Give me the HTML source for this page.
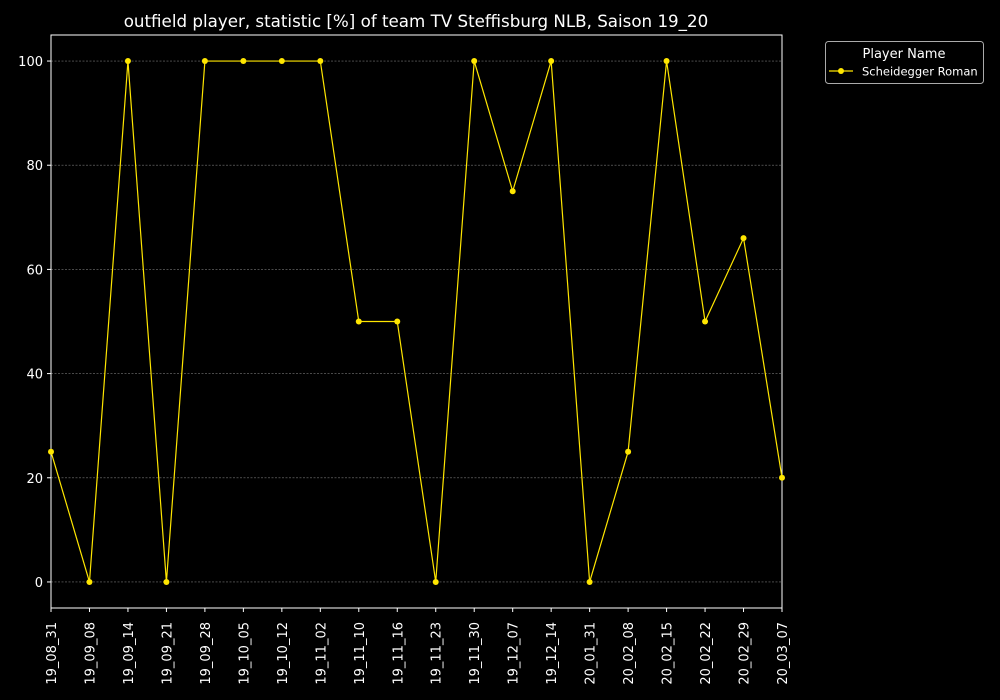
<!DOCTYPE html>
<html><head><meta charset="utf-8"><style>
html,body{margin:0;padding:0;background:#000;overflow:hidden;width:1000px;height:700px;}
svg{display:block;}
svg text{font-family:"DejaVu Sans","Liberation Sans",sans-serif;fill:#fff;}
</style></head><body>
<svg id="chart" width="1000" height="700" viewBox="0 0 1000 700" xmlns="http://www.w3.org/2000/svg">
<rect width="1000" height="700" fill="#000"/>
<text x="416" y="27" font-size="16.7" text-anchor="middle">outfield player, statistic [%] of team TV Steffisburg NLB, Saison 19_20</text>
<g id="grid"></g>
<g id="axes"></g>
<g id="series"></g>
<g>
<rect x="825.5" y="41.5" width="158" height="42" rx="3" fill="#000" stroke="#aaa" stroke-width="1"/>
<text x="904" y="58" font-size="13" text-anchor="middle">Player Name</text>
<line x1="829" y1="71" x2="853" y2="71" stroke="#ffe600" stroke-width="1.2"/>
<circle cx="841" cy="71" r="3" fill="#ffe600"/>
<text x="862" y="75.5" font-size="11.5">Scheidegger Roman</text>
</g>
</svg>
<script>
const categories=["19_08_31","19_09_08","19_09_14","19_09_21","19_09_28","19_10_05","19_10_12","19_11_02","19_11_10","19_11_16","19_11_23","19_11_30","19_12_07","19_12_14","20_01_31","20_02_08","20_02_15","20_02_22","20_02_29","20_03_07"];
const values=[25,0,100,0,100,100,100,100,50,50,0,100,75,100,0,25,100,50,66,20];
const yTicks=[0,20,40,60,80,100];
const NS="http://www.w3.org/2000/svg";
const L=51,R=782,T=35,B=608,ymin=-5,ymax=105;
const x=i=>L+(R-L)*i/(categories.length-1);
const y=v=>B-(v-ymin)/(ymax-ymin)*(B-T);
function mk(tag,attrs,parent){const e=document.createElementNS(NS,tag);for(const k in attrs)e.setAttribute(k,attrs[k]);parent.appendChild(e);return e;}
const grid=document.getElementById('grid'),axes=document.getElementById('axes'),series=document.getElementById('series');
yTicks.forEach(t=>{
  const gl=mk('line',{x1:L,x2:R,y1:y(t),y2:y(t),stroke:'#777','stroke-width':0.6,'stroke-dasharray':'2,1.5'},grid);
  
  
  mk('line',{x1:L-4,x2:L,y1:y(t),y2:y(t),stroke:'#fff'},axes);
  const tx=mk('text',{x:L-8,y:y(t)+5,'font-size':13,'text-anchor':'end'},axes);
  tx.textContent=t;
  
  
});
const frame=mk('rect',{x:L,y:T,width:R-L,height:B-T,fill:'none',stroke:'#fff','stroke-width':1},axes);


categories.forEach((c,i)=>{
  mk('line',{x1:x(i),x2:x(i),y1:B,y2:B+4,stroke:'#fff'},axes);
  const tx=mk('text',{x:0,y:0,'font-size':13,'text-anchor':'end',transform:`translate(${x(i)+5},${B+14}) rotate(-90)`},axes);
  tx.textContent=c;
  
  
});
const pl=mk('polyline',{points:values.map((v,i)=>x(i)+','+y(v)).join(' '),fill:'none',stroke:'#ffe600','stroke-width':1.2},series);


values.forEach((v,i)=>{
  const c=mk('circle',{cx:x(i),cy:y(v),r:3,fill:'#ffe600'},series);
  
  
});
</script>
</body></html>
